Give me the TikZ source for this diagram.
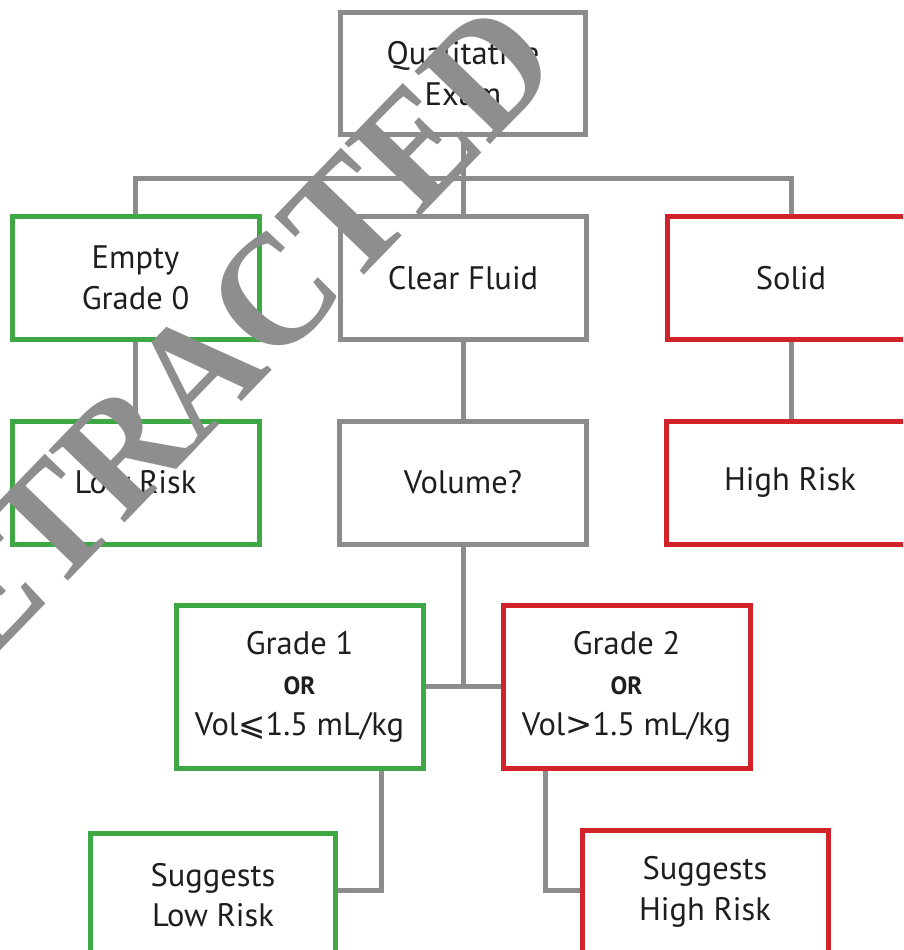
\documentclass[tikz,border=0pt]{standalone}
\usepackage{fontspec}
\usetikzlibrary{backgrounds}
\setmainfont{PT Sans}
\newfontfamily\wmfont{Liberation Serif}
\newfontfamily\symfont{DejaVu Sans}
\newcommand\orfont{\fontsize{25}{41}\selectfont\bfseries}
\definecolor{boxgrey}{HTML}{8C8C8C}
\definecolor{boxgreen}{HTML}{3DA844}
\definecolor{boxred}{HTML}{D2232A}
\definecolor{txt}{HTML}{1E1E1E}
\definecolor{wmgrey}{HTML}{8E8E8E}
\begin{document}
\begin{tikzpicture}[x=1pt,y=-1pt,
  box/.style={draw, line width=5pt, fill=white, minimum width=247pt, minimum height=123pt,
    inner sep=0pt, align=center, text=txt, font=\fontsize{32.5}{40.5}\selectfont},
  greybox/.style={box, draw=boxgrey},
  greenbox/.style={box, draw=boxgreen},
  redbox/.style={box, draw=boxred},
  conn/.style={draw=boxgrey, line width=5pt}]
\useasboundingbox (0,0) rectangle (903,950);
\clip (0,0) rectangle (903,950);

\coordinate (busY) at (0,178);
\node[greybox, minimum width=245pt, minimum height=122pt] (top) at (463,73.5) {Qualitative\\Exam};
\node[greenbox] (empty) at (135.5,278) {Empty\\Grade 0};
\node[greybox, minimum width=246pt] (clear) at (463,278) {Clear Fluid};
\node[redbox] (solid) at (791,278) {Solid};
\node[greenbox] (low) at (135.5,482.5) {Low Risk};
\node[greybox] (vol) at (463,482.5) {Volume?};
\node[redbox] (high) at (790,482.5) {High Risk};
\node[greenbox, minimum height=163pt] (g1) at (299.5,686.5)
  {Grade 1\\{\orfont OR}\\Vol{\symfont ⩽}1.5 mL/kg};
\node[redbox, minimum height=163pt] (g2) at (626.5,686.5)
  {Grade 2\\{\orfont OR}\\Vol{\symfont >}1.5 mL/kg};
\node[greenbox, minimum width=245pt, minimum height=124pt] (slr) at (213,895) {Suggests\\Low Risk};
\node[redbox, minimum width=246pt, minimum height=124pt] (shr) at (705,892) {Suggests\\High Risk};

\begin{scope}[on background layer]
\fill[white] (0,0) rectangle (903,950);
\draw[conn] (top.south) -- (clear.north);
\draw[conn] (empty.north) |- (solid.north |- busY) -- (solid.north);
\draw[conn] (empty.south) -- (low.north);
\draw[conn] (clear.south) -- (vol.north);
\draw[conn] (solid.south) -- (solid.south |- high.north);
\draw[conn] (vol.south) -- (vol.south |- g1.east);
\draw[conn] (g1.east) -- (g2.west);
\draw[conn] ([xshift=81.5pt]g1.south) |- ([yshift=5pt]slr.east);
\draw[conn] ([xshift=-81.5pt]g2.south) |- ([yshift=2pt]shr.west);
\end{scope}

% watermark
\node[rotate=46, xscale=0.94, text=wmgrey, inner sep=0pt, font=\wmfont\bfseries\fontsize{160}{160}\selectfont] (wm) at (198,372) {RETRACTED};
\end{tikzpicture}
\end{document}
